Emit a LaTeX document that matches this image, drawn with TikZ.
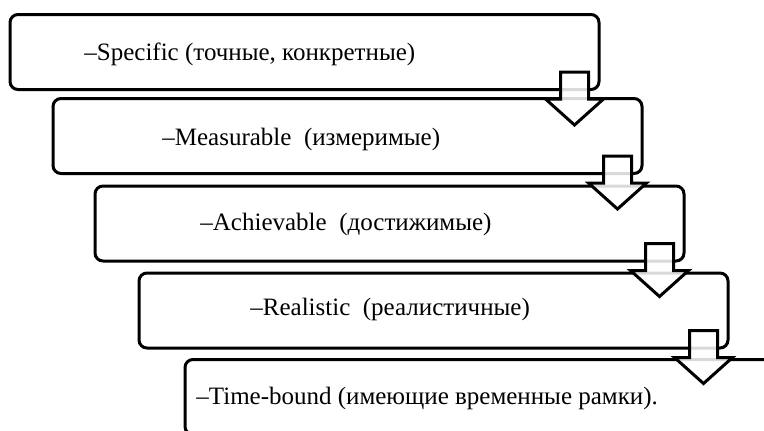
\documentclass[tikz,border=0pt]{standalone}
\usepackage{fontspec}
\setmainfont{Liberation Serif}
\usetikzlibrary{positioning}

\begin{document}
\begin{tikzpicture}[
    x=0.5pt, y=-0.5pt,
    stagebox/.style={draw, line width=1.5pt, rounded corners=4pt, minimum width=294.5pt, minimum height=37.5pt, inner sep=0pt},
    stagetext/.style={anchor=base west, inner sep=0pt, font=\fontsize{12.5}{15}\selectfont},
    hollowarrow/.style={draw, line width=1.5pt, fill=white, fill opacity=0.85, line join=miter}
]
\clip (0,0) rectangle (764,430);
% stages
\node[stagebox] (b1) at (304.5,52) {};
\node[stagebox] (b2) at (347.5,136) {};
\node[stagebox] (b3) at (389.5,223.5) {};
\node[stagebox] (b4) at (433.5,310.5) {};
\node[stagebox] (b5) at (479.5,397) {};
\node[stagetext] (t1) at (84,60) {–Specific (точные, конкретные)};
\node[stagetext] (t2) at (162,145) {–Measurable~ (измеримые)};
\node[stagetext] (t3) at (200,230) {–Achievable~ (достижимые)};
\node[stagetext] (t4) at (250,315) {–Realistic~ (реалистичные)};
\node[stagetext] (t5) at (196,404) {–Time-bound (имеющие временные рамки).};
% down arrows between stages
\foreach \i in {1,...,4}
  \draw[hollowarrow] ([shift={(-40,-19)}]b\i.south east) -- ++(28,0) -- ++(0,27) -- ++(15,0)
    -- ++(-29,26) -- ++(-29,-26) -- ++(15,0) -- cycle;
\end{tikzpicture}
\end{document}
